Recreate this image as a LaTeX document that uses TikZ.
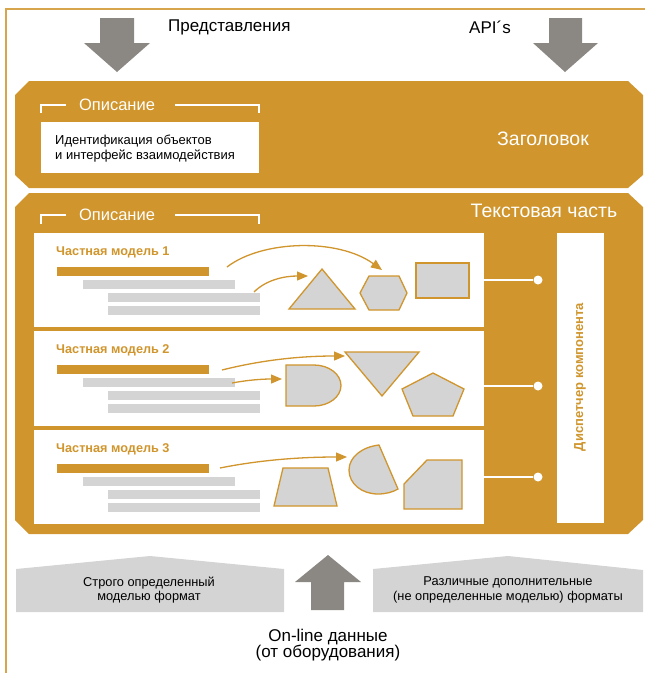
\documentclass[tikz,border=0pt]{standalone}
\usepackage{fontspec}
\setmainfont{Liberation Sans}
\usetikzlibrary{arrows.meta}
\definecolor{ora}{HTML}{D0952C}
\definecolor{lgray}{HTML}{D4D4D4}
\definecolor{dgray}{HTML}{8B8783}
\begin{document}
\begin{tikzpicture}[x=1pt,y=-1pt,
  band/.style={fill=ora,draw=none},
  panel/.style={fill=white,draw=none,inner sep=0pt,outer sep=0pt,minimum width=450pt},
  bar/.style={draw=none,inner sep=0pt,outer sep=0pt,minimum width=152pt,minimum height=9pt},
  shp/.style={fill=lgray,draw=ora,line width=1.3pt},
  oarrow/.style={draw=ora,line width=1.3pt,-{Triangle[length=11pt,width=9pt]}},
  garrow/.style={fill=dgray,draw=none},
  bigtxt/.style={font=\fontsize{17}{19}\selectfont,inner sep=0pt},
  wtitle/.style={font=\fontsize{19.5}{22}\selectfont,text=white,inner sep=0pt},
  wdesc/.style={font=\fontsize{16.5}{19}\selectfont,text=white,inner sep=0pt},
  mtitle/.style={font=\bfseries\fontsize{12.7}{14}\selectfont,text=ora,inner sep=0pt,anchor=west},
  smtxt/.style={font=\fontsize{12.8}{14.5}\selectfont,inner sep=0pt,align=center},
  bracketline/.style={draw=white,line width=1.4pt},
  wdot/.style={circle,fill=white,draw=none,minimum size=9pt,inner sep=0pt},
  wline/.style={draw=white,line width=1.4pt}
]
\useasboundingbox (0,0) rectangle (645,673);
% outer frame
\draw[ora!85,line width=1.8pt] (6,673) -- (6,9) -- (645,9);

% top arrows
\fill[garrow] (100,18) -- (134,18) -- (134,43) -- (150,43) -- (117,72) -- (84,43) -- (100,43) -- cycle;
\fill[garrow] (549,18) -- (582,18) -- (582,43) -- (598,43) -- (565,72) -- (533,43) -- (549,43) -- cycle;
\node[bigtxt,anchor=west] (repr) at (168,27) {Представления};
\node[bigtxt,anchor=west] (api) at (469,27) {API´s};

% header band
\fill[band] (29,81) -- (628,81) -- (643,95) -- (643,175) -- (628,188) -- (29,188) -- (15,175) -- (15,95) -- cycle;
\draw[bracketline] (41,113) -- (41,105) -- (66,105);
\draw[bracketline] (175,105) -- (259,105) -- (259,113);
\node[wdesc] (desc1) at (117,105) {Описание};
\node[fill=white,inner sep=0pt,minimum width=218pt,minimum height=51pt] (idbox) at (150,147.5) {};
\node[font=\fontsize{13}{15}\selectfont,anchor=west,align=left,inner sep=0pt] (idtxt) at (55,148.5) {Идентификация объектов\\и интерфейс взаимодействия};
\node[wtitle] (zag) at (543,139) {Заголовок};

% text band
\fill[band] (29,193) -- (628,193) -- (643,207) -- (643,520) -- (628,534) -- (29,534) -- (15,520) -- (15,207) -- cycle;
\draw[bracketline] (41,224) -- (41,215) -- (66,215);
\draw[bracketline] (175,215) -- (259,215) -- (259,224);
\node[wdesc] (desc2) at (117,215) {Описание};
\node[wtitle] (tekst) at (544,211) {Текстовая часть};

% panels
\node[panel,minimum height=94pt] (p1) at (259,280) {};
\node[panel,minimum height=95pt] (p2) at (259,378.5) {};
\node[panel,minimum height=94pt] (p3) at (259,477) {};

% dispatcher
\node[fill=white,inner sep=0pt,minimum width=47pt,minimum height=290pt] (disp) at (580.5,378) {};
\node[rotate=90,font=\bfseries\fontsize{13}{15}\selectfont,text=ora,inner sep=0pt] (disptxt) at (580,377) {Диспетчер компонента};

% connectors
\node[wdot] (d1) at (538,280) {};
\node[wdot] (d2) at (538,386) {};
\node[wdot] (d3) at (538,477) {};
\draw[wline] (d1) -- (d1 -| p1.east);
\draw[wline] (d2) -- (d2 -| p2.east);
\draw[wline] (d3) -- (d3 -| p3.east);

% bars and titles
\foreach \n/\t in {1/233,2/331,3/430}{
  \node[mtitle] (title\n) at (56,\t+19.5) {Частная модель \n};
  \node[bar,fill=ora] (ob\n) at (133,\t+38.5) {};
  \node[bar,fill=lgray] (ga\n) at (159,\t+51.5) {};
  \node[bar,fill=lgray] (gb\n) at (184,\t+64.5) {};
  \node[bar,fill=lgray] (gc\n) at (184,\t+77) {};
}

% model 1 shapes
\draw[shp] (289,309) -- (322,269) -- (355,309) -- cycle;
\draw[shp] (360,293) -- (369,276) -- (399,276) -- (407,293) -- (399,310) -- (369,310) -- cycle;
\draw[shp] (416,263) rectangle (469,298);
\coordinate (a1s) at (227,267);
\coordinate (a1e) at (382,270);
\coordinate (a2s) at (254,292);
\coordinate (a2e) at (308,276);
\draw[oarrow] (a1s) .. controls (262,240) and (338,238) .. (a1e);
\draw[oarrow] (a2s) .. controls (266,280) and (284,276) .. (a2e);

% model 2 shapes
\draw[shp] (286,365) -- (314,365) arc[start angle=-90,end angle=90,x radius=27,y radius=20.5] -- (286,406) -- cycle;
\draw[shp] (345,352) -- (419,352) -- (382,396) -- cycle;
\draw[shp] (433,373) -- (464,389) -- (453,416) -- (413,416) -- (402,389) -- cycle;
\coordinate (b1s) at (222,370);
\coordinate (b1e) at (345,356);
\coordinate (b2s) at (232,383);
\coordinate (b2e) at (282,379);
\draw[oarrow] (b1s) .. controls (262,360) and (300,356) .. (b1e);
\draw[oarrow] (b2s) .. controls (248,380) and (262,379) .. (b2e);

% model 3 shapes
\draw[shp] (283,468) -- (328,468) -- (337,506) -- (274,506) -- cycle;
\draw[shp] (379,445) .. controls (362,447) and (349,457) .. (349,470)
  .. controls (349,484) and (362,494) .. (378,494)
  .. controls (386,494) and (393,492) .. (398,489) -- cycle;
\draw[shp] (404,484) -- (427,460) -- (462,460) -- (462,509) -- (404,509) -- cycle;
\coordinate (c1s) at (220,468);
\coordinate (c1e) at (347,457);
\draw[oarrow] (c1s) .. controls (260,460) and (300,457) .. (c1e);

% bottom
\fill[lgray] (16,569) -- (150,556) -- (284,569) -- (284,612) -- (16,612) -- cycle;
\fill[lgray] (373,569) -- (508,556) -- (643,570) -- (643,612) -- (373,612) -- cycle;
\fill[garrow] (311,610) -- (311,582) -- (295,582) -- (328,555) -- (361,582) -- (344,582) -- (344,610) -- cycle;
\node[smtxt] (strict) at (149,590) {Строго определенный\\моделью формат};
\node[smtxt] (various) at (508,590) {Различные дополнительные\\(не определенные моделью) форматы};
\node[bigtxt,align=center,font=\fontsize{17}{16.5}\selectfont] (online) at (328,645) {On-line данные\\(от оборудования)};
\end{tikzpicture}
\end{document}
